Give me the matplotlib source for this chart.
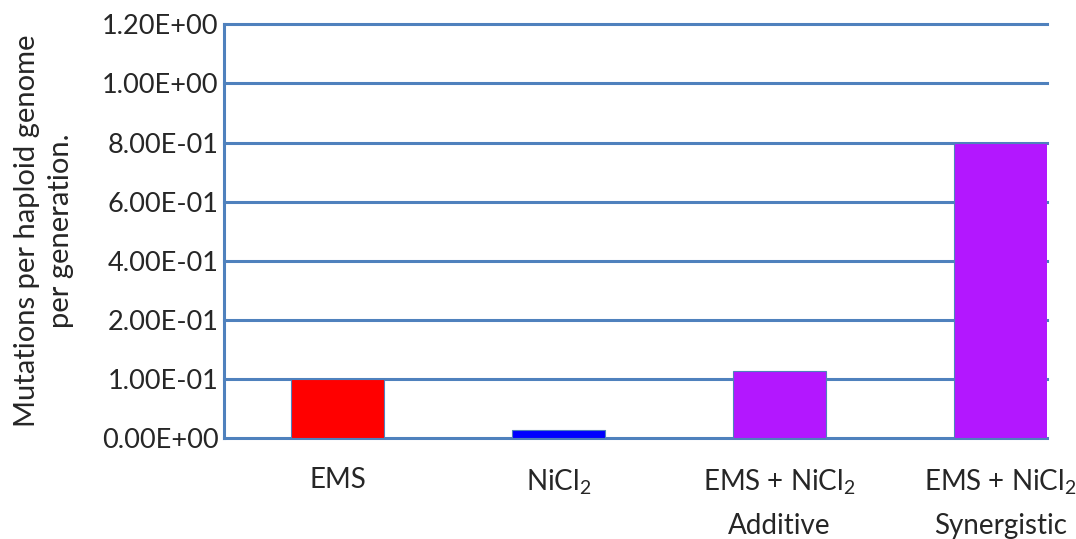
import numpy as np
import matplotlib
matplotlib.use('Agg')
import matplotlib.pyplot as plt

plt.rcParams['font.family'] = ['Lato', 'DejaVu Sans']
plt.rcParams['mathtext.fontset'] = 'custom'
plt.rcParams['mathtext.rm'] = 'Lato'

# data
categories = ['EMS', r'$\mathregular{NiCl_2}$',
              'EMS + $\\mathregular{NiCl_2}$\nAdditive',
              'EMS + $\\mathregular{NiCl_2}$\nSynergistic']
rates = [0.1, 0.014, 0.114, 0.8]
colors = ['#ff0000', '#0000ff', '#b317ff', '#b317ff']
tick_values = [0, 0.1, 0.2, 0.4, 0.6, 0.8, 1.0, 1.2]

# axis with evenly spaced (non linear) ticks
tick_pos = np.arange(len(tick_values))
def fwd(v):
    return np.interp(v, tick_values, tick_pos)
def inv(p):
    return np.interp(p, tick_pos, tick_values)

blue = '#4f81bd'
txt = '#262626'
fig = plt.figure(figsize=(10.76, 5.39), dpi=100)
ax = fig.add_axes([0.208, 0.187, 0.765, 0.768])
ax.set_yscale('function', functions=(fwd, inv))

x = np.arange(len(categories))
ax.bar(x, rates, width=0.42, color=colors, edgecolor=blue, linewidth=0.8, zorder=3)

ax.set_ylim(0, 1.2)
ax.set_xlim(-0.516, 3.21)
ax.set_yticks(tick_values)
ax.set_yticklabels(['%.2E' % v for v in tick_values])
ax.yaxis.set_minor_locator(matplotlib.ticker.NullLocator())
ax.set_xticks(x)
ax.set_xticklabels(categories, linespacing=1.75, va='top')
ax.tick_params(axis='y', length=0, pad=4, labelsize=19.5, colors=txt)
ax.tick_params(axis='x', length=0, pad=21, labelsize=20, colors=txt)

ax.set_axisbelow(True)
ax.yaxis.grid(True, color=blue, linewidth=2.2)
for line in ax.get_ygridlines():
    line.set_clip_on(False)
for s in ['top', 'right', 'bottom']:
    ax.spines[s].set_visible(False)
ax.spines['left'].set_color(blue)
ax.spines['left'].set_linewidth(2.2)

ax.set_ylabel('Mutations per haploid genome\nper generation.', fontsize=21,
              color=txt, linespacing=1.35, labelpad=20)

plt.savefig('out.png', dpi=100)
